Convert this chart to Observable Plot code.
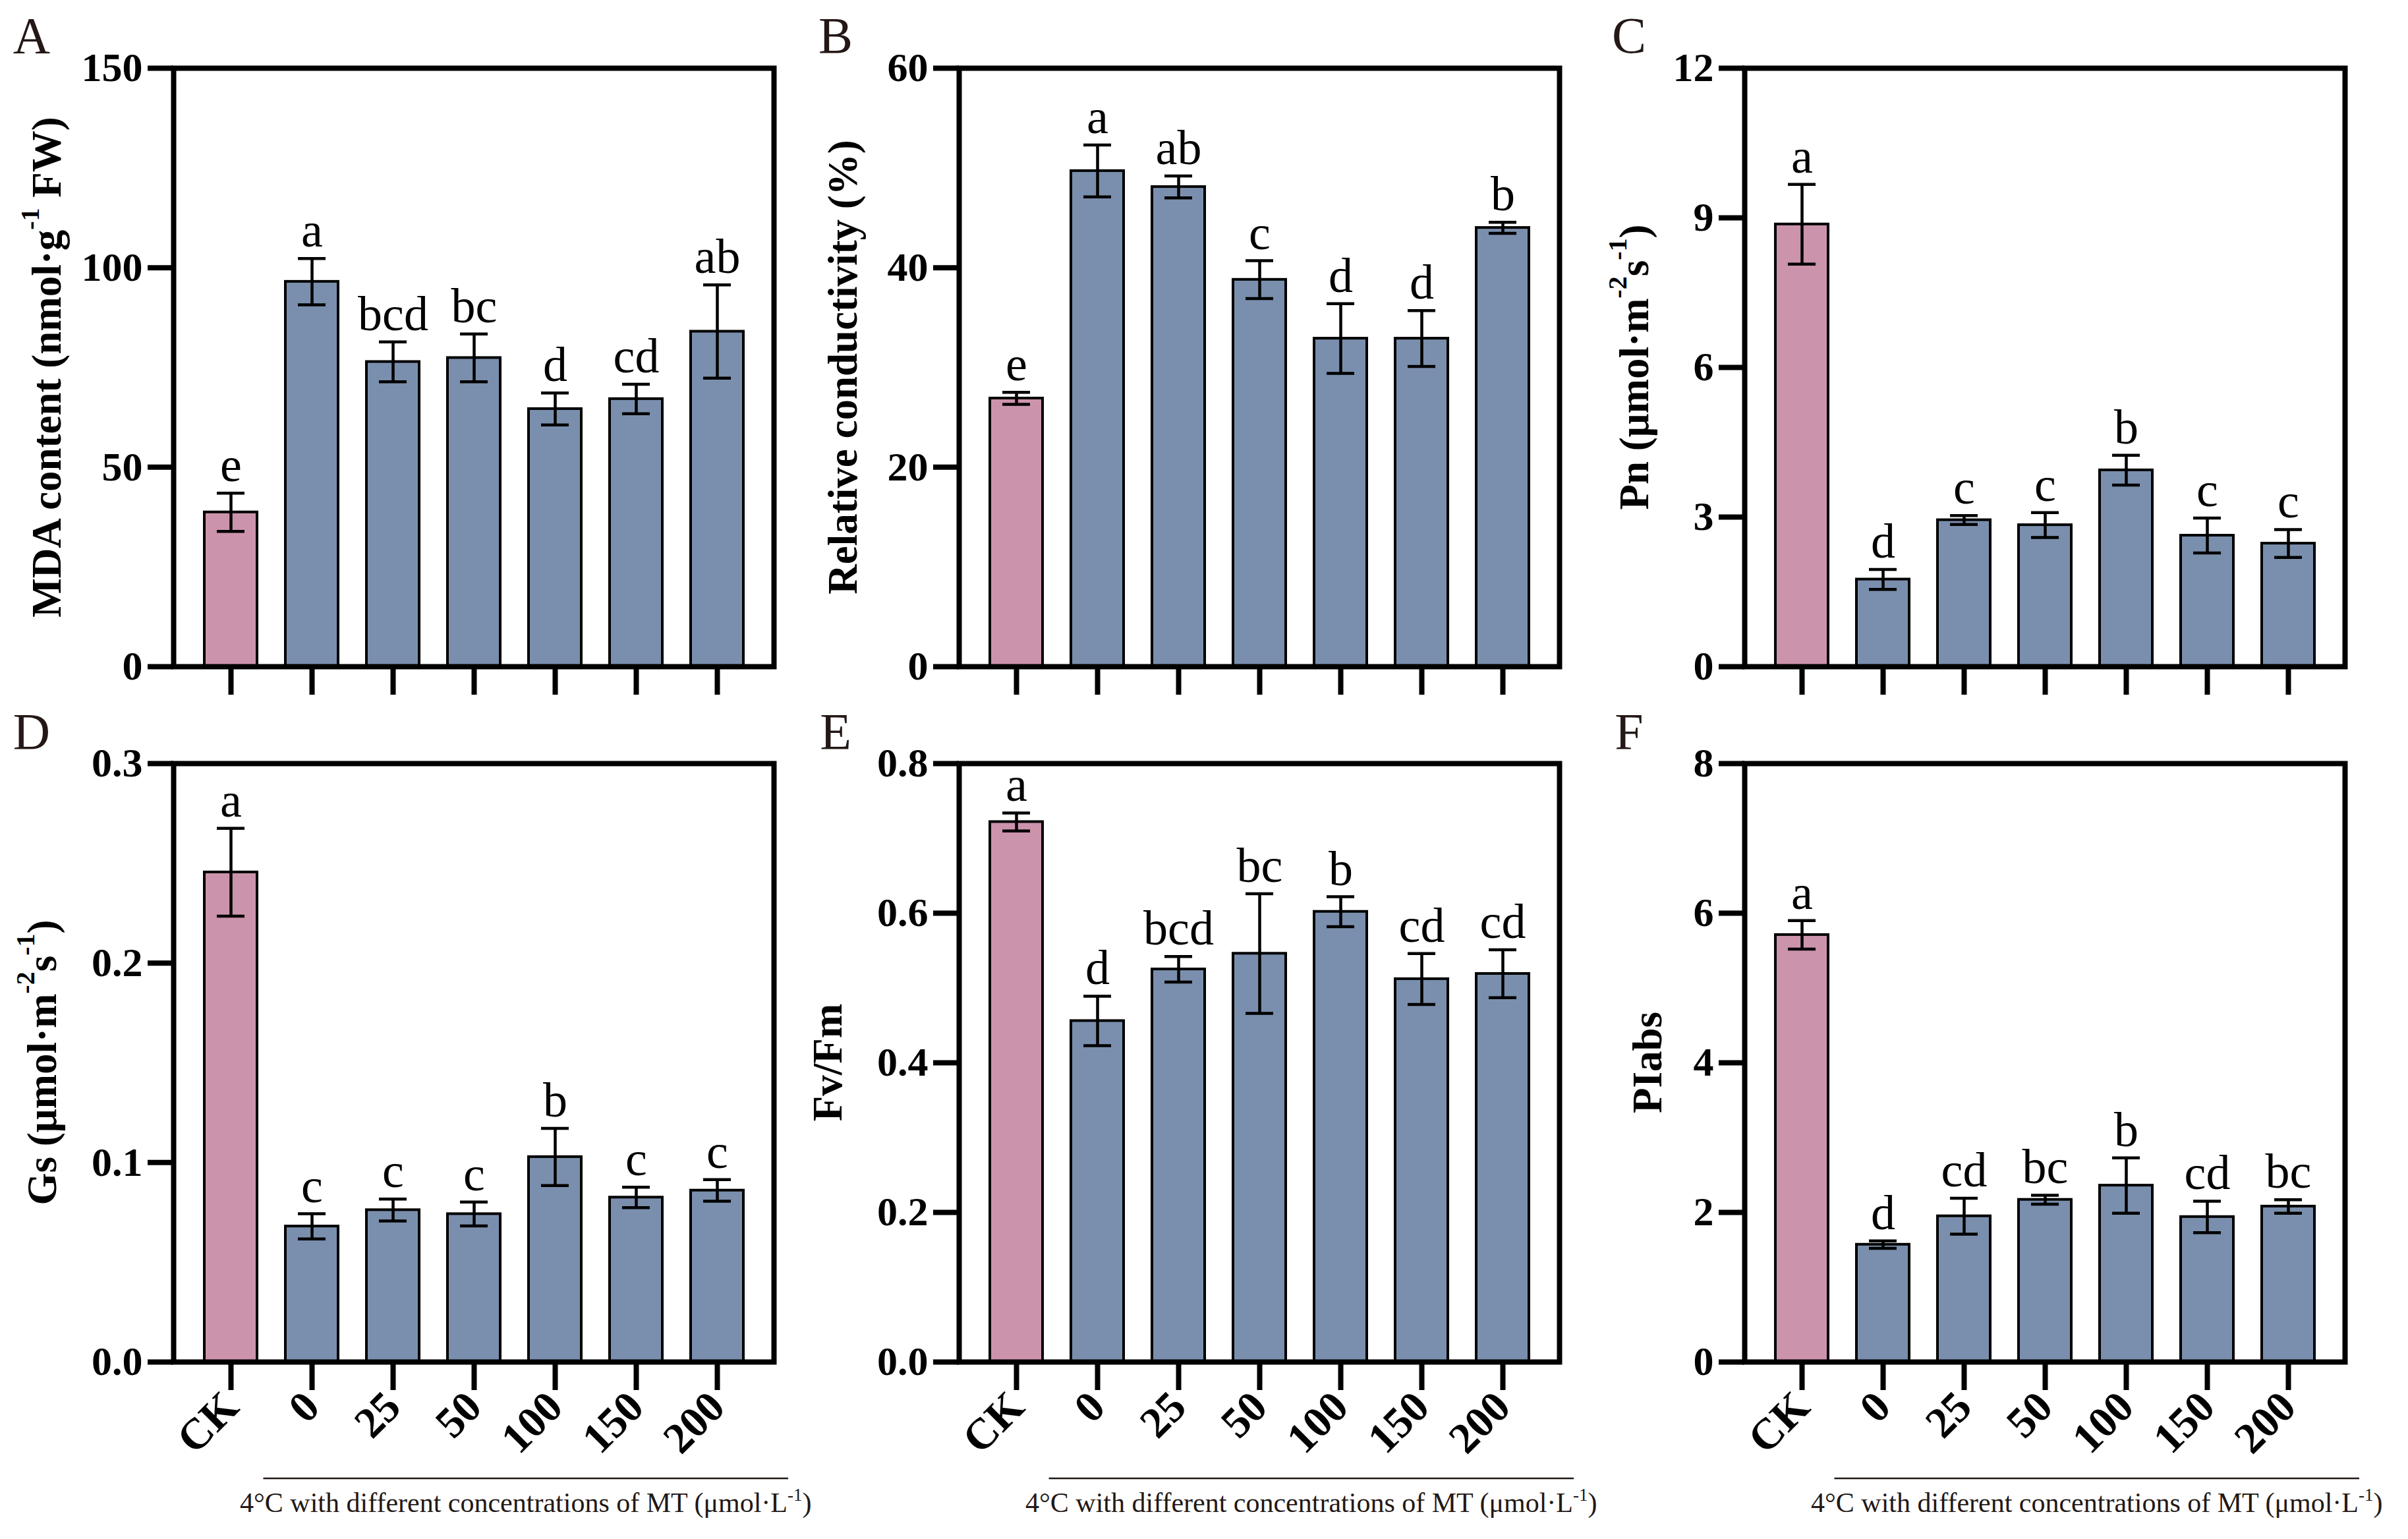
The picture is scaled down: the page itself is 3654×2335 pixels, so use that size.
<!DOCTYPE html>
<html>
<head>
<meta charset="utf-8">
<script src="https://cdn.jsdelivr.net/npm/d3@7"></script>
<script src="https://cdn.jsdelivr.net/npm/@observablehq/plot@0.6"></script>
<style>
  html, body { margin: 0; padding: 0; background: #fff; }
  #wrap { position: relative; width: 3654px; height: 2335px; background: #fff; overflow: hidden; }
  #wrap svg { position: absolute; }
  #wrap g[aria-label*="tick label"], #wrap g[aria-label*="tick label"] text { font-weight: bold !important; }
</style>
</head>
<body>
<div id="wrap"></div>
<script>
// ---------------- data ----------------
const groups = ["CK", "0", "25", "50", "100", "150", "200"];

const mdaMean = [38.7, 96.5, 76.4, 77.4, 64.6, 67.1, 84.0];
const mdaErr  = [4.8, 5.8, 5.0, 6.0, 4.0, 3.7, 11.7];
const mdaSig  = ["e", "a", "bcd", "bc", "d", "cd", "ab"];

const rcMean = [26.9, 49.7, 48.1, 38.8, 32.9, 32.9, 44.0];
const rcErr  = [0.6, 2.6, 1.1, 1.9, 3.5, 2.8, 0.55];
const rcSig  = ["e", "a", "ab", "c", "d", "d", "b"];

const pnMean = [8.87, 1.75, 2.94, 2.84, 3.94, 2.63, 2.47];
const pnErr  = [0.80, 0.20, 0.09, 0.25, 0.30, 0.35, 0.28];
const pnSig  = ["a", "d", "c", "c", "b", "c", "c"];

const gsMean = [0.2455, 0.0680, 0.0762, 0.0742, 0.1028, 0.0825, 0.0860];
const gsErr  = [0.022, 0.0063, 0.0055, 0.006, 0.0143, 0.0051, 0.0054];
const gsSig  = ["a", "c", "c", "c", "b", "c", "c"];

const fvMean = [0.722, 0.456, 0.525, 0.546, 0.602, 0.512, 0.519];
const fvErr  = [0.012, 0.033, 0.017, 0.080, 0.020, 0.034, 0.032];
const fvSig  = ["a", "d", "bcd", "bc", "b", "cd", "cd"];

const piMean = [5.71, 1.57, 1.95, 2.17, 2.36, 1.94, 2.08];
const piErr  = [0.19, 0.05, 0.24, 0.06, 0.37, 0.21, 0.09];
const piSig  = ["a", "d", "cd", "bc", "b", "cd", "bc"];

const captionText = "4°C with different concentrations of MT (μmol·L";

// ---------------- styling / layout ----------------
const PINK = "#CC93AD";
const BLUE = "#7A8FAD";
const FONT = "'Liberation Serif', 'Times New Roman', serif";
const FRAME_W = 911, FRAME_H = 908, ML = 263, MR = 40;

const panels = [
  {id: "A", mean: mdaMean, err: mdaErr, sig: mdaSig, max: 150, ticks: [0, 50, 100, 150], fmt: d3.format("d"),
   title: [["MDA content (nmol·g"], ["-1", "sup"], [" FW)"]], col: 0, row: 0, titleDx: -192, letterX: 48},
  {id: "B", mean: rcMean, err: rcErr, sig: rcSig, max: 60, ticks: [0, 20, 40, 60], fmt: d3.format("d"),
   title: [["Relative conductivity (%)"]], col: 1, row: 0, titleDx: -176, letterX: 76},
  {id: "C", mean: pnMean, err: pnErr, sig: pnSig, max: 12, ticks: [0, 3, 6, 9, 12], fmt: d3.format("d"),
   title: [["Pn (μmol·m"], ["-2", "sup"], ["s"], ["-1", "sup"], [")"]], col: 2, row: 0, titleDx: -167, letterX: 88},
  {id: "D", mean: gsMean, err: gsErr, sig: gsSig, max: 0.3, ticks: [0, 0.1, 0.2, 0.3], fmt: d3.format(".1f"),
   title: [["Gs (μmol·m"], ["-2", "sup"], ["s"], ["-1", "sup"], [")"]], col: 0, row: 1, titleDx: -199, letterX: 48},
  {id: "E", mean: fvMean, err: fvErr, sig: fvSig, max: 0.8, ticks: [0, 0.2, 0.4, 0.6, 0.8], fmt: d3.format(".1f"),
   title: [["Fv/Fm"]], col: 1, row: 1, titleDx: -199, letterX: 76},
  {id: "F", mean: piMean, err: piErr, sig: piSig, max: 8, ticks: [0, 2, 4, 6, 8], fmt: d3.format("d"),
   title: [["PIabs"]], col: 2, row: 1, titleDx: -147, letterX: 88}
];

const colLeft = [0, 1192, 2384];
const rowCfg = [
  {top: 0, mt: 103, mb: 70, letterY: 80},
  {top: 1060, mt: 98, mb: 269, letterY: 76}
];

const wrap = document.getElementById("wrap");

for (const p of panels) {
  const rc = rowCfg[p.row];
  const bottomRow = p.row === 1;
  const rows = groups.map((g, i) => ({g, v: p.mean[i], e: p.err[i], s: p.sig[i]}));
  const ck = rows.filter(d => d.g === "CK");
  const mt = rows.filter(d => d.g !== "CK");

  const svg = Plot.plot({
    width: ML + FRAME_W + MR,
    height: rc.mt + FRAME_H + rc.mb,
    marginLeft: ML, marginRight: MR, marginTop: rc.mt, marginBottom: rc.mb,
    style: {fontFamily: FONT, fontSize: "62px", background: "transparent", overflow: "visible", color: "black"},
    x: {domain: groups, padding: 0.35, axis: null},
    y: {domain: [0, p.max], axis: null},
    marks: [
      Plot.barY(ck, {x: "g", y: "v", fill: PINK, stroke: "black", strokeWidth: 4}),
      Plot.barY(mt, {x: "g", y: "v", fill: BLUE, stroke: "black", strokeWidth: 4}),
      Plot.ruleX(rows, {x: "g", y1: d => d.v - d.e, y2: d => d.v + d.e, stroke: "black", strokeWidth: 4.5}),
      Plot.tickY(rows, {x: "g", y: d => d.v + d.e, stroke: "black", strokeWidth: 4.5, insetLeft: 19, insetRight: 19}),
      Plot.tickY(rows, {x: "g", y: d => d.v - d.e, stroke: "black", strokeWidth: 4.5, insetLeft: 19, insetRight: 19}),
      Plot.text(rows, {x: "g", y: d => d.v + d.e, text: "s", dy: -18, lineAnchor: "bottom", fontSize: 74, fill: "black"}),
      Plot.frame({stroke: "black", strokeWidth: 8}),
      Plot.axisY({ticks: p.ticks, tickFormat: p.fmt, tickSize: 39, tickPadding: 8, strokeWidth: 8, label: null,
                  fill: "black", fontWeight: "bold", fontSize: 62}),
      bottomRow
        ? Plot.axisX({tickSize: 43, strokeWidth: 8, tickRotate: -45, tickPadding: 14, label: null,
                      fill: "black", fontWeight: "bold", fontSize: 66})
        : Plot.axisX({tickSize: 43, strokeWidth: 8, tickFormat: () => "", label: null})
    ]
  });

  svg.style.left = colLeft[p.col] + "px";
  svg.style.top = rc.top + "px";
  wrap.appendChild(svg);

  const s = d3.select(svg);
  s.selectAll('g[aria-label*="tick label"] text').attr("font-weight", "bold");

  // panel letter
  s.append("text")
    .attr("x", p.letterX).attr("y", rc.letterY)
    .attr("font-family", FONT).attr("font-size", 78).attr("fill", "#231815")
    .text(p.id);

  // y-axis title with superscripts
  const cx = ML + p.titleDx, cy = rc.mt + FRAME_H / 2;
  const t = s.append("text")
    .attr("transform", `translate(${cx},${cy}) rotate(-90)`)
    .attr("text-anchor", "middle").attr("dominant-baseline", "central")
    .attr("font-family", FONT).attr("font-size", 63).attr("font-weight", "bold").attr("fill", "black");
  let raised = false;
  for (const [str, kind] of p.title) {
    const ts = t.append("tspan").text(str);
    if (kind === "sup") {
      ts.attr("font-size", 40);
      if (!raised) { ts.attr("dy", -26); raised = true; }
    } else if (raised) {
      ts.attr("dy", 26); raised = false;
    }
  }

  // bracket + caption for bottom row
  if (bottomRow) {
    const xs = svg.scale("x");
    const bw = xs.bandwidth;
    const c0 = xs.apply("CK") + bw / 2, c1 = xs.apply("0") + bw / 2;
    const xStart = (c0 + c1) / 2 - 12;
    const xEnd = ML + FRAME_W + 22;
    const yLine = rc.mt + FRAME_H + 177;
    s.append("line")
      .attr("x1", xStart).attr("x2", xEnd).attr("y1", yLine).attr("y2", yLine)
      .attr("stroke", "#231815").attr("stroke-width", 2.5);
    const cap = s.append("text")
      .attr("x", (xStart + xEnd) / 2).attr("y", rc.mt + FRAME_H + 228)
      .attr("text-anchor", "middle")
      .attr("font-family", FONT).attr("font-size", 42).attr("fill", "#231815");
    cap.append("tspan").text(captionText);
    cap.append("tspan").attr("font-size", 27).attr("dy", -17).text("-1");
    cap.append("tspan").attr("dy", 17).text(")");
  }
}
</script>
</body>
</html>
